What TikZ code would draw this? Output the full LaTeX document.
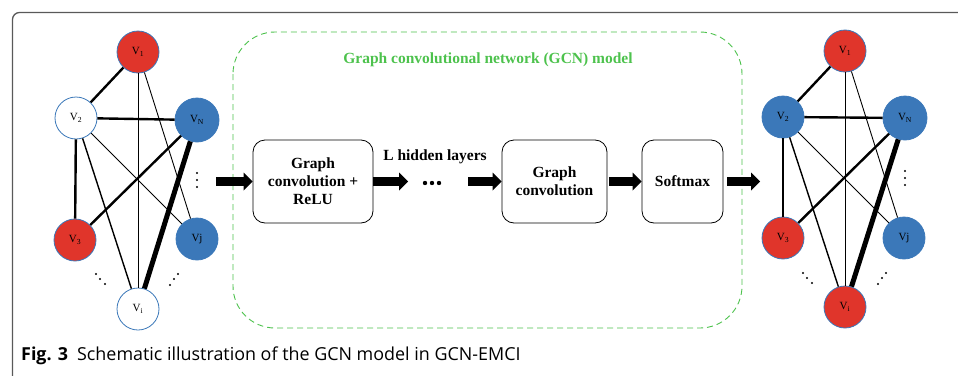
\documentclass[tikz,border=0pt]{standalone}
\usepackage{fontspec}
\setmainfont{Liberation Serif}
\newfontfamily\capfont{Open Sans}
\usetikzlibrary{arrows.meta}

\definecolor{vred}{HTML}{E0352B}
\definecolor{vblue}{HTML}{3B78B9}
\definecolor{gcngreen}{HTML}{4DC24D}

\begin{document}
\begin{tikzpicture}[x=1pt,y=-1pt]
    \tikzstyle{vert} = [circle, minimum size=42pt, inner sep=0pt, draw=vblue, line width=0.8pt,
                        font=\fontsize{11}{11}\selectfont]
    \tikzstyle{vr} = [vert, fill=vred]
    \tikzstyle{vb} = [vert, fill=vblue]
    \tikzstyle{vw} = [vert, fill=white]
    \tikzstyle{layer} = [draw, rounded corners=12pt, fill=white, align=center, minimum height=83pt,
                         line width=0.8pt, font=\fontsize{15.5}{18}\bfseries]
    \tikzstyle{fat} = [line width=9pt, -{Triangle[length=9pt, width=18pt, line width=0pt]}]
    \useasboundingbox (0, 0) rectangle (958, 375);
    % frame
    \draw[gray!70!black, line width=1.3pt, rounded corners=7pt] (970, 12.5) -- (12.5, 12.5) -- (12.5, 390);
    % input graph
    \node[vr] (l1) at (138, 52) {V\textsubscript{1}};
    \node[vw] (l2) at (76, 118) {V\textsubscript{2}};
    \node[vb, minimum size=44pt] (lN) at (197, 120) {V\textsubscript{N}};
    \node[vr] (l3) at (75, 240) {V\textsubscript{3}};
    \node[vb] (lj) at (197, 239) {Vj};
    \node[vw] (li) at (138, 309) {V\textsubscript{i}};
    % output graph
    \node[vr] (r1) at (845, 51) {V\textsubscript{1}};
    \node[vb] (r2) at (783, 117) {V\textsubscript{2}};
    \node[vb, minimum size=44pt] (rN) at (905, 118) {V\textsubscript{N}};
    \node[vr] (r3) at (783, 238) {V\textsubscript{3}};
    \node[vb] (rj) at (904, 238) {Vj};
    \node[vr] (ri) at (845, 307) {V\textsubscript{i}};
    \foreach \g in {l, r}
        \foreach \a/\b/\w in {1/2/2.4, 1/i/0.9, 1/j/0.9, 2/N/2.4, 2/3/2.4, 2/i/1.4, 2/j/0.9, N/3/2.4, N/i/5}
            \draw[line width=\w pt] (\g\a) -- (\g\b);
    % dots
    \foreach \x/\y in {197/173, 197/180, 197/187, 96/274, 100/279, 105/284, 178/274, 174/279, 170/285,
                       905/171, 905/178, 905/185, 803/273, 807/278, 812/283, 886/273, 882/278, 878/284}
        \fill (\x, \y) circle[radius=1.1];
    % GCN model
    \draw[gcngreen, dashed, dash pattern=on 6pt off 4pt, line width=0.9pt, rounded corners=42pt]
        (233, 32) rectangle (742, 328);
    \node[gcngreen, font=\fontsize{15.5}{18}\bfseries] (title) at (488, 60) {Graph convolutional network (GCN) model};
    \node[layer, minimum width=120pt] (conv1) at (313, 181.5) {Graph\\convolution +\\ReLU};
    \node[layer, minimum width=105pt] (conv2) at (554.5, 181.5) {Graph\\convolution};
    \node[layer, minimum width=81pt] (soft) at (682.5, 181.5) {Softmax};
    \node[font=\fontsize{15.5}{18}\bfseries] (hid) at (435, 157) {L hidden layers};
    \foreach \x in {425, 432, 439}
        \fill (\x, 183) circle[radius=2.2];
    \coordinate (in) at (216, 181.5);
    \coordinate (hend) at (408, 181.5);
    \coordinate (hbeg) at (468, 181.5);
    \coordinate (out) at (760, 181.5);
    \draw[fat] (in) -- (conv1);
    \draw[fat] (conv1) -- (hend);
    \draw[fat] (hbeg) -- (conv2);
    \draw[fat, shorten <=1.5pt] (conv2) -- (soft);
    \draw[fat, shorten <=4pt] (soft) -- (out);
    % caption
    \node[anchor=base west, inner sep=0pt, font=\capfont\fontsize{17.9}{18}\selectfont] (cap) at (21, 360)
        {\textbf{Fig. 3}\hspace{9pt}Schematic illustration of the GCN model in GCN-EMCI};
\end{tikzpicture}
\end{document}
